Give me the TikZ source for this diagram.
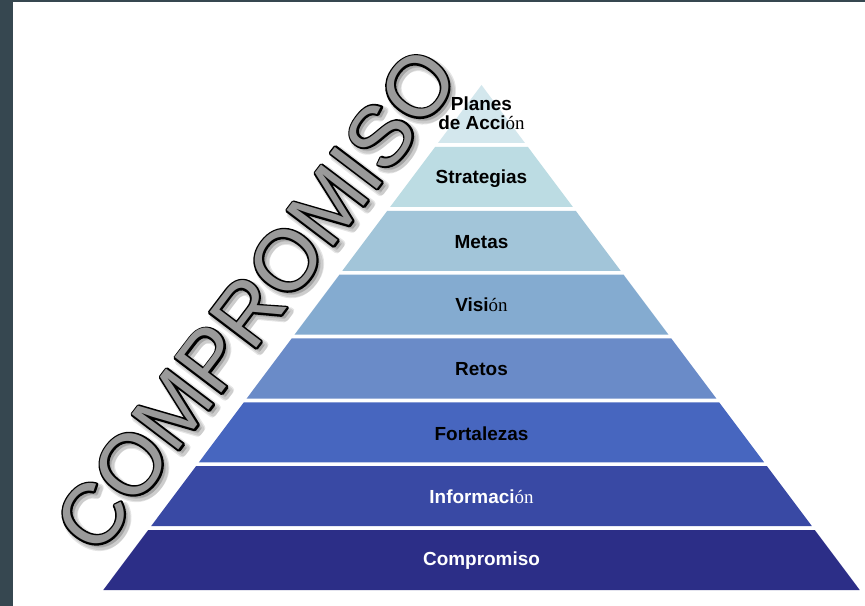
\documentclass[tikz,border=0pt]{standalone}
\usepackage{fontspec}
\setmainfont{Liberation Sans}
\newfontfamily\serifon{Liberation Serif}
\newcommand\on{{\serifon\mdseries ón}}
\newcommand\strokedtext[2]{\special{pdf:literal direct 2 Tr #1 w 1 j}#2\special{pdf:literal direct 0 Tr}}
\definecolor{frame}{HTML}{364750}
\definecolor{b1}{HTML}{D3E7ED}
\definecolor{b2}{HTML}{BCDCE3}
\definecolor{b3}{HTML}{A2C5D9}
\definecolor{b4}{HTML}{84ABD0}
\definecolor{b5}{HTML}{6A8BC8}
\definecolor{b6}{HTML}{4766BF}
\definecolor{b7}{HTML}{3949A4}
\definecolor{b8}{HTML}{2C2E87}
\definecolor{biggray}{HTML}{9A9A9A}
\begin{document}
\begin{tikzpicture}[x=0.75pt,y=-0.75pt,
  lbl/.style={font=\fontsize{14.2}{14.5}\selectfont\bfseries, align=center, inner sep=0},
  big/.style={rotate=52.8, font=\fontsize{64}{64}\selectfont, inner sep=0}]
\useasboundingbox (0,0) rectangle (865,606);
\fill[white] (0,0) rectangle (865,606);
\fill[frame] (0,0) rectangle (12.7,606);
\fill[frame] (0,0) rectangle (865,2);
% pyramid bands
\foreach \top/\bot/\col in {85/143/b1, 147/207/b2, 210.8/270.8/b3, 274.7/334.7/b4, 338.5/398.5/b5, 402.3/462.3/b6, 466.2/526.2/b7, 530/590/b8}{
  \pgfmathsetmacro\ht{0.749*(\top-85)}
  \pgfmathsetmacro\hb{0.749*(\bot-85)}
  \fill[\col] (481.5-\ht,\top) -- (481.5+\ht,\top) -- (481.5+\hb,\bot) -- (481.5-\hb,\bot) -- cycle;
}
% labels
\node[lbl] (n1) at (481.5,113) {Planes\\de Acci\on};
\node[lbl] (n2) at (481.5,178.5) {Strategias};
\node[lbl] (n3) at (481.5,242) {Metas};
\node[lbl] (n4) at (481.5,305) {Visi\on};
\node[lbl] (n5) at (481.5,369) {Retos};
\node[lbl] (n6) at (481.5,433.5) {Fortalezas};
\node[lbl,text=white] (n7) at (481.5,496.5) {Informaci\on};
\node[lbl,text=white] (n8) at (481.5,560.5) {Compromiso};
% big rotated word with shadow and outline
\foreach \dx/\dy [count=\i] in {3/4, 4/3}{
  \node[big, text=black, opacity=0.10] (s\i) at (256+\dx,300+\dy) {\strokedtext{5}{COMPROMISO}};
}
\node[big, text=black] (bigline) at (256,300) {\strokedtext{2.8}{COMPROMISO}};
\node[big, text=biggray] (bigword) at (256,300) {COMPROMISO};
\end{tikzpicture}
\end{document}
